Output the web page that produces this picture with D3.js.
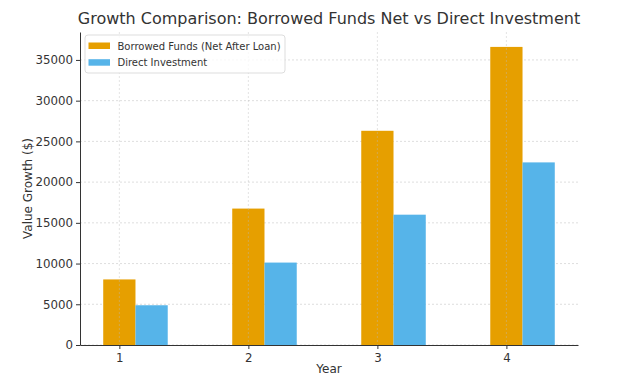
<!DOCTYPE html>
<html>
<head>
<meta charset="utf-8">
<script src="https://cdn.jsdelivr.net/npm/d3@7"></script>
<style>
  body { margin: 0; background: #fff; }
  text { font-family: "DejaVu Sans", sans-serif; }
</style>
</head>
<body>
<div id="chart"></div>
<script>
// data
const years = [1, 2, 3, 4];
const borrowedNet = [8050, 16750, 26300, 36600];
const directInvest = [4880, 10120, 16000, 22420];
const yTicks = [0, 5000, 10000, 15000, 20000, 25000, 30000, 35000];
const seriesNames = ["Borrowed Funds (Net After Loan)", "Direct Investment"];
const colors = ["#E69F00", "#56B4E9"];

const width = 631, height = 376;
const marginLeft = 80, marginRight = 53, marginTop = 32, marginBottom = 31;
const barW = 0.25;

const svg = d3.select("#chart").append("svg")
    .attr("width", width)
    .attr("height", height);

const x = d3.scaleLinear()
    .domain([0.695, 4.555])
    .range([marginLeft, width - marginRight]);

const y = d3.scaleLinear()
    .domain([0, 38430])
    .range([height - marginBottom, marginTop]);

// horizontal grid
svg.append("g")
  .selectAll("line")
  .data(yTicks)
  .join("line")
    .attr("x1", marginLeft).attr("x2", width - marginRight)
    .attr("y1", d => y(d)).attr("y2", d => y(d))
    .attr("stroke", "#d6d6d6")
    .attr("stroke-dasharray", "2,2")
    .attr("stroke-width", 0.8);

// bars
const series = [borrowedNet, directInvest];
series.forEach((vals, s) => {
  svg.append("g")
    .selectAll("rect")
    .data(years)
    .join("rect")
      .attr("x", (d, i) => x(d + s * barW - barW / 2))
      .attr("y", (d, i) => y(vals[i]))
      .attr("width", x(barW) - x(0))
      .attr("height", (d, i) => y(0) - y(vals[i]))
      .attr("fill", colors[s]);
});

// vertical grid (shows over bars faintly)
svg.append("g")
  .selectAll("line")
  .data(years)
  .join("line")
    .attr("x1", d => x(d)).attr("x2", d => x(d))
    .attr("y1", marginTop).attr("y2", height - marginBottom)
    .attr("stroke", "#bbb")
    .attr("stroke-opacity", 0.5)
    .attr("stroke-dasharray", "2,2")
    .attr("stroke-width", 0.8);

// axes
const xAxis = svg.append("g")
    .attr("transform", `translate(0,${height - marginBottom})`)
    .call(d3.axisBottom(x).tickValues(years).tickFormat(d3.format("d")).tickSize(4).tickSizeOuter(0));
const yAxis = svg.append("g")
    .attr("transform", `translate(${marginLeft},0)`)
    .call(d3.axisLeft(y).tickValues(yTicks).tickFormat(d3.format("d")).tickSize(4).tickSizeOuter(0));

[xAxis, yAxis].forEach(g => {
  g.select(".domain").attr("stroke", "#333").attr("stroke-width", 1);
  g.selectAll(".tick line").attr("stroke", "#333");
  g.selectAll(".tick text")
    .attr("fill", "#333")
    .attr("font-size", 11.8)
    .attr("font-family", "DejaVu Sans, sans-serif");
});
xAxis.selectAll(".tick text").attr("dy", "0.85em");

// titles
svg.append("text")
    .attr("x", (marginLeft + width - marginRight) / 2)
    .attr("y", 24)
    .attr("text-anchor", "middle")
    .attr("font-size", 16)
    .attr("fill", "#333")
    .text("Growth Comparison: Borrowed Funds Net vs Direct Investment");

svg.append("text")
    .attr("x", (marginLeft + width - marginRight) / 2)
    .attr("y", 373)
    .attr("text-anchor", "middle")
    .attr("font-size", 12)
    .attr("fill", "#333")
    .text("Year");

svg.append("text")
    .attr("transform", `translate(32,${(marginTop + height - marginBottom) / 2}) rotate(-90)`)
    .attr("text-anchor", "middle")
    .attr("font-size", 12)
    .attr("fill", "#333")
    .text("Value Growth ($)");

// legend
const legend = svg.append("g").attr("transform", "translate(85,35)");
legend.append("rect")
    .attr("width", 200).attr("height", 38)
    .attr("rx", 3)
    .attr("fill", "#fff").attr("fill-opacity", 0.8)
    .attr("stroke", "#ddd");
seriesNames.forEach((name, i) => {
  legend.append("rect")
      .attr("x", 3.5).attr("y", 7.5 + i * 16.7)
      .attr("width", 21.5).attr("height", 6.5)
      .attr("fill", colors[i]);
  legend.append("text")
      .attr("x", 32.5).attr("y", 14.5 + i * 16.7)
      .attr("font-size", 10)
      .attr("fill", "#333")
      .text(name);
});
</script>
</body>
</html>
